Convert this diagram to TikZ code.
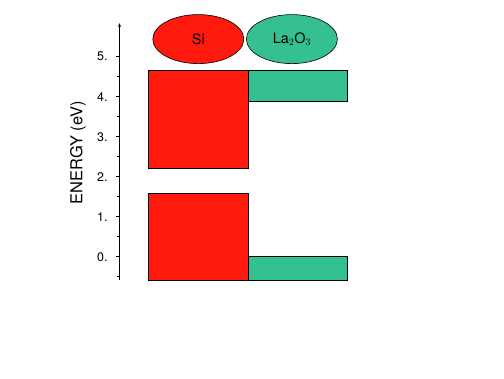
\documentclass[tikz,border=0pt]{standalone}
\usepackage{fontspec}
\setmainfont{TeX Gyre Heros}
\usepackage{xcolor}
\usetikzlibrary{positioning,arrows.meta,shapes.geometric}
\definecolor{siRed}{HTML}{FF1A0D}
\definecolor{oxGreen}{HTML}{35C18F}

\begin{document}
\begin{tikzpicture}[x=1bp, y=40bp,
    band/.style={draw=black, line width=0.7bp},
    matlabel/.style={ellipse, draw=black, line width=0.6bp, minimum width=91bp,
                     minimum height=49bp, inner sep=0pt, font=\fontsize{14.5}{14.5}\selectfont},
    ticklabel/.style={anchor=east, inner sep=0pt, font=\fontsize{12.5}{12.5}\selectfont}]
  \useasboundingbox (0,-3.0325) rectangle (504,6.4175);

  % energy axis
  \coordinate (axbot) at (119.5,-0.58);
  \coordinate (axtop) at (119.5,5.84);
  \draw[line width=1.2bp, -{Stealth[length=4bp,width=3bp]}] (axbot) -- (axtop);
  \foreach \e in {0,...,5}
    \draw[line width=0.8bp] (116,\e) -- (119.5,\e)
      node[ticklabel] at (108,\e) {\e.};
  \foreach \e in {-0.5,0.5,1.5,2.5,3.5,4.5}
    \draw[line width=0.8bp] (117,\e) -- (119.5,\e);
  \node[rotate=90, font=\fontsize{16.5}{16.5}\selectfont] (ylab) at (78,2.6) {ENERGY (eV)};

  % bands
  \draw[band, fill=siRed] (148.3,2.2) rectangle (248.3,4.67);
  \draw[band, fill=siRed] (148.3,-0.59) rectangle (248.3,1.58);
  \draw[band, fill=oxGreen] (248.3,3.88) rectangle (347.3,4.67);
  \draw[band, fill=oxGreen] (248.3,-0.59) rectangle (347.3,0);

  % materials
  \node[matlabel, fill=siRed] (si) at (198.3,5.44) {Si};
  \node[matlabel, fill=oxGreen, right=2bp of si] (lao) {La$_2$O$_3$};
\end{tikzpicture}
\end{document}
